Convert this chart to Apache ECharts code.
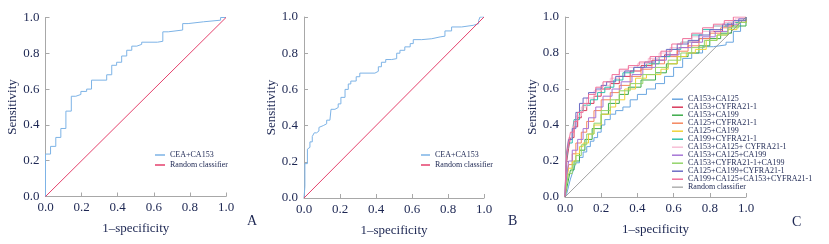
<!DOCTYPE html>
<html>
<head>
<meta charset="utf-8">
<script src="https://cdn.jsdelivr.net/npm/echarts@6/dist/echarts.min.js"></script>
<style>
  html, body { margin: 0; padding: 0; background: #fff; }
  #chart { width: 829px; height: 244px; }
</style>
</head>
<body>
<div id="chart"></div>
<script>
// ROC points [1-specificity, sensitivity]
var rocA = [[0,0],[0,0.237],[0.028,0.28],[0.057,0.33],[0.085,0.38],[0.113,0.477],[0.143,0.56],[0.168,0.57],[0.196,0.587],[0.228,0.6],[0.255,0.65],[0.339,0.68],[0.367,0.733],[0.394,0.75],[0.422,0.785],[0.45,0.817],[0.478,0.84],[0.506,0.85],[0.533,0.862],[0.62,0.867],[0.65,0.92],[0.68,0.93],[0.76,0.966],[0.79,0.976],[0.876,0.985],[0.97,1],[1,1]];
var rocB = [[0,0],[0.005,0.064],[0.005,0.19],[0.019,0.27],[0.028,0.28],[0.033,0.31],[0.046,0.34],[0.057,0.36],[0.07,0.37],[0.083,0.39],[0.094,0.4],[0.107,0.41],[0.126,0.43],[0.144,0.44],[0.15,0.49],[0.172,0.5],[0.19,0.52],[0.205,0.556],[0.228,0.6],[0.246,0.63],[0.26,0.646],[0.29,0.67],[0.31,0.69],[0.394,0.7],[0.413,0.725],[0.43,0.75],[0.454,0.765],[0.487,0.77],[0.515,0.8],[0.533,0.816],[0.56,0.835],[0.59,0.853],[0.607,0.875],[0.654,0.88],[0.71,0.89],[0.756,0.894],[0.783,0.923],[0.82,0.945],[0.876,0.954],[0.94,0.963],[0.97,0.98],[0.978,1],[1,1]];
var diag = [[0,0],[1,1]];

var ca153_ca125 = [[0,0],[0.01,0.02],[0.02,0.06],[0.03,0.1],[0.04,0.13],[0.05,0.16],[0.06,0.19],[0.08,0.22],[0.1,0.25],[0.12,0.28],[0.14,0.31],[0.16,0.33],[0.18,0.36],[0.2,0.4],[0.22,0.43],[0.25,0.46],[0.28,0.48],[0.32,0.5],[0.36,0.54],[0.4,0.57],[0.45,0.6],[0.5,0.63],[0.55,0.67],[0.6,0.72],[0.65,0.77],[0.7,0.8],[0.76,0.835],[0.82,0.845],[0.89,0.86],[0.93,0.92],[0.97,0.97],[1,1]];
var ca153_cyfra = [[0,0],[0.005,0.12],[0.01,0.2],[0.02,0.27],[0.03,0.33],[0.05,0.39],[0.07,0.44],[0.09,0.48],[0.12,0.52],[0.16,0.56],[0.2,0.6],[0.25,0.63],[0.3,0.67],[0.36,0.7],[0.42,0.73],[0.48,0.76],[0.55,0.79],[0.62,0.83],[0.68,0.86],[0.74,0.88],[0.8,0.92],[0.87,0.95],[0.93,0.97],[1,1]];
var ca153_ca199 = [[0,0],[0.01,0.05],[0.02,0.1],[0.03,0.15],[0.05,0.2],[0.08,0.26],[0.11,0.32],[0.15,0.38],[0.2,0.46],[0.24,0.52],[0.3,0.57],[0.35,0.61],[0.42,0.65],[0.5,0.69],[0.56,0.74],[0.62,0.78],[0.68,0.8],[0.74,0.84],[0.8,0.88],[0.86,0.91],[0.92,0.95],[1,1]];
var ca125_cyfra = [[0,0],[0.01,0.1],[0.02,0.18],[0.04,0.24],[0.06,0.3],[0.09,0.36],[0.12,0.42],[0.16,0.48],[0.2,0.54],[0.25,0.58],[0.3,0.62],[0.36,0.67],[0.42,0.71],[0.48,0.74],[0.55,0.78],[0.62,0.81],[0.68,0.84],[0.74,0.88],[0.8,0.91],[0.86,0.94],[0.92,0.97],[1,1]];
var ca125_ca199 = [[0,0],[0.01,0.1],[0.02,0.16],[0.04,0.2],[0.06,0.24],[0.08,0.28],[0.1,0.3],[0.13,0.35],[0.16,0.4],[0.2,0.46],[0.25,0.5],[0.28,0.54],[0.33,0.6],[0.39,0.66],[0.45,0.68],[0.53,0.71],[0.57,0.74],[0.62,0.78],[0.67,0.8],[0.72,0.82],[0.78,0.87],[0.84,0.9],[0.9,0.93],[0.95,0.97],[1,1]];
var ca199_cyfra = [[0,0],[0.005,0.15],[0.01,0.22],[0.02,0.3],[0.04,0.36],[0.05,0.43],[0.08,0.48],[0.1,0.51],[0.14,0.54],[0.18,0.58],[0.22,0.61],[0.27,0.65],[0.32,0.69],[0.38,0.72],[0.45,0.74],[0.52,0.78],[0.58,0.82],[0.64,0.86],[0.7,0.9],[0.76,0.93],[0.82,0.95],[0.9,0.97],[0.96,0.99],[1,1]];
var ca153_ca125_cyfra = [[0,0],[0.005,0.2],[0.01,0.27],[0.02,0.33],[0.04,0.39],[0.06,0.45],[0.09,0.5],[0.12,0.55],[0.16,0.59],[0.2,0.62],[0.25,0.66],[0.3,0.7],[0.35,0.72],[0.4,0.74],[0.46,0.77],[0.52,0.8],[0.58,0.83],[0.64,0.86],[0.7,0.89],[0.76,0.92],[0.82,0.95],[0.88,0.97],[0.94,0.99],[1,1]];
var ca153_ca125_ca199 = [[0,0],[0.01,0.12],[0.02,0.2],[0.04,0.26],[0.07,0.32],[0.1,0.38],[0.13,0.44],[0.17,0.5],[0.21,0.56],[0.26,0.6],[0.31,0.64],[0.37,0.68],[0.43,0.72],[0.5,0.76],[0.56,0.79],[0.63,0.83],[0.7,0.86],[0.76,0.89],[0.83,0.92],[0.9,0.96],[0.96,0.99],[1,1]];
var ca153_cyfra_ca199 = [[0,0],[0.01,0.08],[0.02,0.13],[0.04,0.18],[0.06,0.23],[0.09,0.29],[0.12,0.35],[0.16,0.41],[0.2,0.48],[0.25,0.54],[0.3,0.59],[0.36,0.63],[0.43,0.68],[0.5,0.72],[0.57,0.76],[0.64,0.8],[0.7,0.83],[0.77,0.87],[0.84,0.9],[0.9,0.94],[0.96,0.97],[1,1]];
var ca125_ca199_cyfra = [[0,0],[0.005,0.18],[0.01,0.25],[0.02,0.32],[0.04,0.38],[0.06,0.47],[0.08,0.52],[0.1,0.55],[0.13,0.58],[0.17,0.6],[0.2,0.62],[0.23,0.64],[0.28,0.67],[0.33,0.7],[0.38,0.72],[0.44,0.75],[0.5,0.78],[0.56,0.82],[0.62,0.85],[0.68,0.87],[0.74,0.9],[0.8,0.93],[0.87,0.96],[0.93,0.98],[1,1]];
var all_four = [[0,0],[0.005,0.17],[0.01,0.24],[0.02,0.3],[0.03,0.36],[0.05,0.42],[0.07,0.47],[0.1,0.52],[0.13,0.57],[0.17,0.61],[0.21,0.64],[0.26,0.68],[0.3,0.71],[0.35,0.73],[0.41,0.75],[0.47,0.78],[0.53,0.81],[0.59,0.85],[0.65,0.88],[0.7,0.91],[0.76,0.94],[0.82,0.96],[0.88,0.98],[0.93,1],[1,1]];

var namesC = ['CA153+CA125', 'CA153+CYFRA21-1', 'CA153+CA199', 'CA125+CYFRA21-1', 'CA125+CA199', 'CA199+CYFRA21-1',
  'CA153+CA125+ CYFRA21-1', 'CA153+CA125+CA199', 'CA153+CYFRA21-1+CA199', 'CA125+CA199+CYFRA21-1', 'CA199+CA125+CA153+CYFRA21-1'];
var dataC = [ca153_ca125, ca153_cyfra, ca153_ca199, ca125_cyfra, ca125_ca199, ca199_cyfra,
  ca153_ca125_cyfra, ca153_ca125_ca199, ca153_cyfra_ca199, ca125_ca199_cyfra, all_four];
var colorsC = ['#6aa6e0', '#d93a5c', '#3dab4a', '#f5875f', '#eed23a', '#2fbfae',
  '#f7bfd6', '#a676d6', '#93d46a', '#6c6cc4', '#f0709a'];

var chart = echarts.init(document.getElementById('chart'));
var font = 'Liberation Serif';
var navy = '#1c2652';

function xAx(i) {
  return {
    gridIndex: i, type: 'value', min: 0, max: 1, interval: 0.2,
    name: '1\u2013specificity', nameLocation: 'middle', nameGap: 26,
    nameTextStyle: { fontFamily: font, fontSize: 13, color: navy },
    axisLine: { lineStyle: { color: '#a8a8a8', width: 1 } },
    axisTick: { inside: true, length: 4, lineStyle: { color: '#a8a8a8' } },
    axisLabel: { fontFamily: font, fontSize: 13, color: navy, margin: 5, formatter: function (v) { return v.toFixed(1); } },
    splitLine: { show: false }
  };
}
function yAx(i) {
  return {
    gridIndex: i, type: 'value', min: 0, max: 1, interval: 0.2,
    name: 'Sensitivity', nameLocation: 'middle', nameGap: 26,
    nameTextStyle: { fontFamily: font, fontSize: 13, color: navy },
    axisLine: { show: true, lineStyle: { color: '#a8a8a8', width: 1 } },
    axisTick: { show: true, inside: true, length: 4, lineStyle: { color: '#a8a8a8' } },
    axisLabel: { fontFamily: font, fontSize: 13, color: navy, margin: 6, formatter: function (v) { return v.toFixed(1); } },
    splitLine: { show: false }
  };
}

var series = [
  { name: 'CEA+CA153', type: 'line', xAxisIndex: 0, yAxisIndex: 0, data: rocA, step: 'end', showSymbol: false, lineStyle: { color: '#7db3e6', width: 1 }, itemStyle: { color: '#7db3e6' } },
  { name: 'Random classifier', type: 'line', xAxisIndex: 0, yAxisIndex: 0, data: diag, showSymbol: false, lineStyle: { color: '#e4416c', width: 1 }, itemStyle: { color: '#e4416c' } },
  { name: 'CEA+CA153', type: 'line', xAxisIndex: 1, yAxisIndex: 1, data: rocB, step: 'end', showSymbol: false, lineStyle: { color: '#7db3e6', width: 1 }, itemStyle: { color: '#7db3e6' } },
  { name: 'Random classifier', type: 'line', xAxisIndex: 1, yAxisIndex: 1, data: diag, showSymbol: false, lineStyle: { color: '#e4416c', width: 1 }, itemStyle: { color: '#e4416c' } }
];
namesC.forEach(function (n, k) {
  series.push({ name: n, type: 'line', xAxisIndex: 2, yAxisIndex: 2, data: dataC[k], step: 'end', showSymbol: false,
    lineStyle: { color: colorsC[k], width: 1 }, itemStyle: { color: colorsC[k] } });
});
series.push({ name: 'Random classifier', type: 'line', xAxisIndex: 2, yAxisIndex: 2, data: diag, showSymbol: false,
  lineStyle: { color: '#8a8a8a', width: 0.8 }, itemStyle: { color: '#8a8a8a' } });

var legText = { fontFamily: font, fontSize: 8, color: navy, lineHeight: 8 };
var option = {
  animation: false,
  grid: [
    { left: 45.5, top: 17.5, width: 180.5, height: 179 },
    { left: 304, top: 17, width: 180, height: 181 },
    { left: 565, top: 17, width: 181, height: 180 }
  ],
  xAxis: [xAx(0), xAx(1), xAx(2)],
  yAxis: [yAx(0), yAx(1), yAx(2)],
  legend: [
    { orient: 'vertical', left: 155, top: 151, padding: 0, itemGap: 2, icon: 'rect', itemWidth: 10, itemHeight: 1.5,
      textStyle: legText, data: ['CEA+CA153', 'Random classifier'] },
    { orient: 'vertical', left: 421, top: 151, padding: 0, itemGap: 2, icon: 'rect', itemWidth: 9, itemHeight: 1.5,
      textStyle: legText, data: ['CEA+CA153', 'Random classifier'] },
    { orient: 'vertical', left: 672, top: 95.2, padding: 0, itemGap: 0, icon: 'rect', itemWidth: 11, itemHeight: 1.5,
      textStyle: { fontFamily: font, fontSize: 8, color: navy, lineHeight: 7.6 },
      data: namesC.map(function (n, k) { return { name: n, itemStyle: { color: colorsC[k] } }; })
        .concat([{ name: 'Random classifier', itemStyle: { color: '#b0b0b0' } }]) }
  ],
  graphic: [
    { type: 'text', left: 247, top: 214, style: { text: 'A', font: '14px "Liberation Serif"', fill: navy } },
    { type: 'text', left: 508, top: 214, style: { text: 'B', font: '14px "Liberation Serif"', fill: navy } },
    { type: 'text', left: 792, top: 215, style: { text: 'C', font: '14px "Liberation Serif"', fill: navy } }
  ],
  series: series
};
chart.setOption(option);
</script>
</body>
</html>
